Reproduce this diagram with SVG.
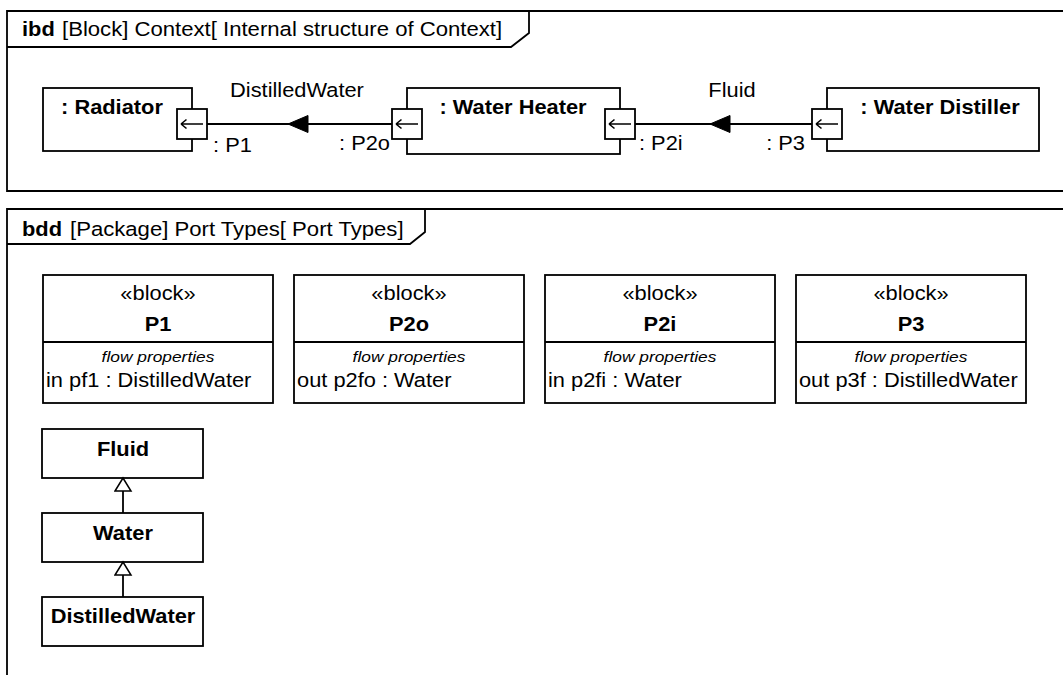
<svg xmlns="http://www.w3.org/2000/svg" xmlns:xlink="http://www.w3.org/1999/xlink" width="1063" height="675" viewBox="0 0 1063 675">
<style>
  .ln { fill: none; stroke: #000; stroke-width: 1.8; }
  .box { fill: #fff; stroke: #000; stroke-width: 1.8; }
  text { font-family: "Liberation Sans", Arial, sans-serif; font-size: 19.5px; fill: #000; transform-box: fill-box; }
  .b { font-weight: bold; }
  .i { font-style: italic; font-size: 15.5px; }
  .m { text-anchor: middle; transform-origin: center; transform: scaleX(1.12); }
  .s { text-anchor: start; transform-origin: left; transform: scaleX(1.12); }
  .e { text-anchor: end; transform-origin: right; transform: scaleX(1.12); }
  .t { transform: scaleX(1.135); }
</style>
<defs>
  <path id="portArrow" d="M4,15 H26 M4,15 L9.5,10.5 M4,15 L9.5,19.5" fill="none" stroke="#000" stroke-width="1.6"/>
  <path id="flowHead" d="M0,0 L20,-8.5 L20,8.5 Z" fill="#000" stroke="#000" stroke-width="1"/>
  <marker id="gen" markerUnits="userSpaceOnUse" viewBox="-1 -1 16 19" markerWidth="16" markerHeight="19" refX="13" refY="8" orient="auto">
    <path d="M0,0 L13,8 L0,16 Z" fill="#fff" stroke="#000" stroke-width="1.5"/>
  </marker>
</defs>
<rect width="1063" height="675" fill="#fff"/>

<g id="frame-ibd">
  <path class="ln" d="M1075,11 H7 V191 H1075"/>
  <path class="ln" d="M7,47 H511 L529,33 V11"/>
  <text class="s b" x="22" y="36">ibd</text>
  <text class="s t" x="62" y="36">[Block] Context[ Internal structure of Context]</text>
</g>

<g id="radiator">
  <rect class="box" x="43" y="88" width="149" height="63"/>
  <text class="m b" x="112" y="114">: Radiator</text>
  <rect class="box" x="177" y="109" width="30" height="30"/>
  <use xlink:href="#portArrow" x="177" y="109"/>
  <text class="s" x="213" y="152">: P1</text>
</g>

<g id="water-heater">
  <rect class="box" x="407" y="88" width="213" height="66"/>
  <text class="m b" x="513" y="114">: Water Heater</text>
  <rect class="box" x="392" y="109" width="30" height="30"/>
  <use xlink:href="#portArrow" x="392" y="109"/>
  <text class="e" x="390" y="150">: P2o</text>
  <rect class="box" x="605" y="109" width="30" height="30"/>
  <use xlink:href="#portArrow" x="605" y="109"/>
  <text class="s" x="639" y="150">: P2i</text>
</g>

<g id="water-distiller">
  <rect class="box" x="827" y="88" width="212" height="63"/>
  <text class="m b" x="940" y="114">: Water Distiller</text>
  <rect class="box" x="812" y="109" width="30" height="30"/>
  <use xlink:href="#portArrow" x="812" y="109"/>
  <text class="e" x="805" y="150">: P3</text>
</g>

<g id="frame-bdd">
  <path class="ln" d="M1075,209 H7 V680"/>
  <path class="ln" d="M7,244 H410 L425,232 V209"/>
  <text class="s b" x="22" y="236">bdd</text>
  <text class="s t" x="70" y="236">[Package] Port Types[ Port Types]</text>
</g>

<g id="block-P1">
  <rect class="box" x="43" y="275" width="230" height="128"/>
  <path class="ln" d="M43,342 H273"/>
  <text class="m" x="158" y="300">«block»</text>
  <text class="m b" x="158" y="331">P1</text>
  <text class="m i" x="158" y="362">flow properties</text>
  <text class="s" x="46" y="387">in pf1 : DistilledWater</text>
</g>

<g id="block-P2o">
  <rect class="box" x="294" y="275" width="230" height="128"/>
  <path class="ln" d="M294,342 H524"/>
  <text class="m" x="409" y="300">«block»</text>
  <text class="m b" x="409" y="331">P2o</text>
  <text class="m i" x="409" y="362">flow properties</text>
  <text class="s" x="297" y="387">out p2fo : Water</text>
</g>

<g id="block-P2i">
  <rect class="box" x="545" y="275" width="230" height="128"/>
  <path class="ln" d="M545,342 H775"/>
  <text class="m" x="660" y="300">«block»</text>
  <text class="m b" x="660" y="331">P2i</text>
  <text class="m i" x="660" y="362">flow properties</text>
  <text class="s" x="548" y="387">in p2fi : Water</text>
</g>

<g id="block-P3">
  <rect class="box" x="796" y="275" width="230" height="128"/>
  <path class="ln" d="M796,342 H1026"/>
  <text class="m" x="911" y="300">«block»</text>
  <text class="m b" x="911" y="331">P3</text>
  <text class="m i" x="911" y="362">flow properties</text>
  <text class="s" x="799" y="387">out p3f : DistilledWater</text>
</g>

<g id="fluid">
  <rect class="box" x="42" y="429" width="161" height="49"/>
  <text class="m b" x="123" y="456">Fluid</text>
</g>
<g id="water">
  <rect class="box" x="42" y="513" width="161" height="49"/>
  <text class="m b" x="123" y="540">Water</text>
</g>
<g id="distilled-water">
  <rect class="box" x="42" y="597" width="161" height="49"/>
  <text class="m b" x="123" y="623">DistilledWater</text>
</g>

<g id="connectors">
  <line class="ln" x1="392" y1="124" x2="207" y2="124"/>
  <use xlink:href="#flowHead" x="288" y="124"/>
  <text class="m" x="297" y="97">DistilledWater</text>
  <line class="ln" x1="812" y1="124" x2="635" y2="124"/>
  <use xlink:href="#flowHead" x="710" y="124"/>
  <text class="m" x="732" y="97">Fluid</text>
  <line class="ln" x1="123" y1="513" x2="123" y2="478" marker-end="url(#gen)"/>
  <line class="ln" x1="123" y1="597" x2="123" y2="562" marker-end="url(#gen)"/>
</g>
</svg>
